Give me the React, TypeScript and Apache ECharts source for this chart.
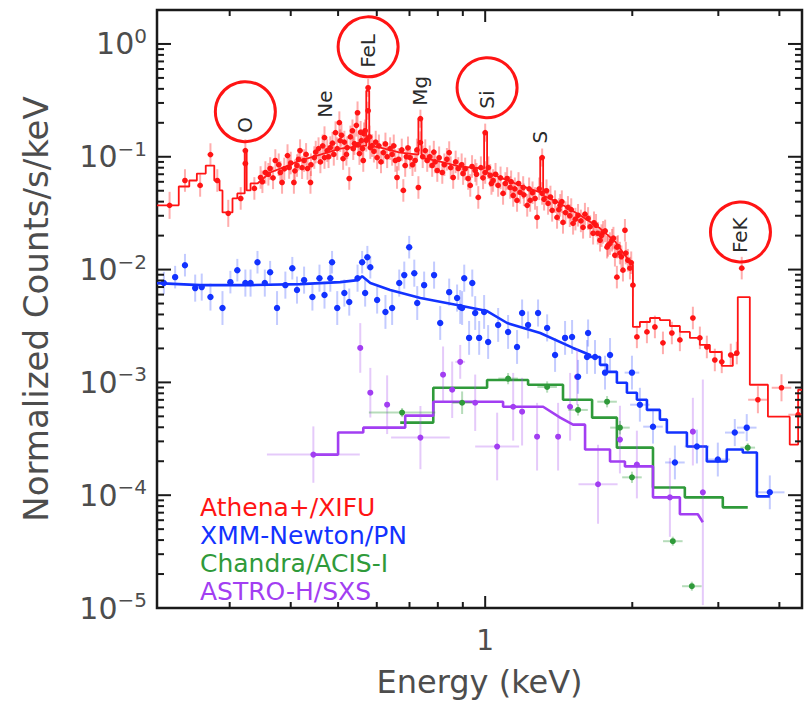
import React, { useEffect, useRef } from "react";
import * as echarts from "echarts";

const FONT = '"DejaVu Sans", sans-serif';
const X_MIN = 0.213;
const X_MAX = 4.45;
const Y_MIN = 1e-5;
const Y_MAX = 2;

const RED = "#ff1414";
const RED_BAR = "rgba(255,40,40,0.38)";
const BLUE = "#1232ff";
const BLUE_BAR = "rgba(40,70,255,0.28)";
const GREEN = "#2f9a3a";
const GREEN_BAR = "rgba(47,154,58,0.35)";
const PURPLE = "#a23ef2";
const PURPLE_BAR = "rgba(170,80,240,0.3)";
const TEXT_GRAY = "#4d4d4d";

const seriesNames = ["Athena+/XIFU", "XMM-Newton/PN", "Chandra/ACIS-I", "ASTRO-H/SXS"];

// [energy keV, counts/s/keV, y-error (dex), x-error (dex, optional)]
const athenaPoints = [
  [0.226, 0.0371, 0.12], [0.243, 0.0616, 0.1], [0.261, 0.0557, 0.1], [0.274, 0.1046, 0.1],
  [0.283, 0.0616, 0.1], [0.298, 0.0315, 0.12], [0.316, 0.0427, 0.1], [0.323, 0.1134, 0.1],
  [0.323, 0.0871, 0.08], [0.337, 0.0524, 0.1], [0.347, 0.0655, 0.1], [0.35, 0.06, 0.1],
  [0.355, 0.0725, 0.1], [0.36, 0.07, 0.1], [0.363, 0.0787, 0.1], [0.368, 0.065, 0.1],
  [0.372, 0.0926, 0.1], [0.378, 0.085, 0.1], [0.381, 0.0725, 0.1], [0.384, 0.0592, 0.1],
  [0.388, 0.078, 0.1], [0.394, 0.1025, 0.1], [0.397, 0.0803, 0.1], [0.4, 0.088, 0.1],
  [0.406, 0.0592, 0.1], [0.408, 0.075, 0.1], [0.412, 0.0836, 0.1], [0.415, 0.095, 0.1],
  [0.418, 0.1134, 0.1], [0.422, 0.08, 0.1], [0.426, 0.0926, 0.1], [0.43, 0.105, 0.1],
  [0.433, 0.0787, 0.1], [0.439, 0.0592, 0.1], [0.44, 0.085, 0.1], [0.447, 0.0984, 0.1],
  [0.45, 0.11, 0.1], [0.456, 0.1181, 0.1], [0.46, 0.09, 0.1], [0.465, 0.125, 0.1],
  [0.469, 0.1478, 0.1], [0.469, 0.0984, 0.1], [0.475, 0.1134, 0.1], [0.478, 0.1, 0.1],
  [0.482, 0.1206, 0.1], [0.487, 0.132, 0.1], [0.49, 0.105, 0.1], [0.494, 0.1636, 0.1],
  [0.498, 0.118, 0.1], [0.503, 0.2005, 0.1], [0.505, 0.139, 0.1], [0.508, 0.155, 0.1],
  [0.512, 0.0964, 0.1], [0.515, 0.135, 0.1], [0.52, 0.105, 0.1], [0.522, 0.1206, 0.1],
  [0.527, 0.0642, 0.1], [0.53, 0.15, 0.1], [0.535, 0.17, 0.1], [0.537, 0.118, 0.1],
  [0.54, 0.1308, 0.1], [0.545, 0.19, 0.1], [0.548, 0.2457, 0.1], [0.55, 0.128, 0.1],
  [0.553, 0.1067, 0.1], [0.556, 0.165, 0.1], [0.558, 0.139, 0.1], [0.561, 0.118, 0.1],
  [0.563, 0.0926, 0.1], [0.565, 0.16, 0.1], [0.568, 0.17, 0.1], [0.571, 0.14, 0.1],
  [0.576, 0.4087, 0.08], [0.576, 0.256, 0.08], [0.58, 0.15, 0.1], [0.582, 0.1206, 0.1],
  [0.587, 0.1256, 0.1], [0.592, 0.112, 0.1], [0.597, 0.135, 0.1], [0.601, 0.0984, 0.1],
  [0.606, 0.125, 0.1], [0.612, 0.09, 0.1], [0.619, 0.1089, 0.1], [0.625, 0.13, 0.1],
  [0.63, 0.1, 0.1], [0.639, 0.1181, 0.1], [0.645, 0.105, 0.1], [0.65, 0.125, 0.1],
  [0.655, 0.0926, 0.1], [0.66, 0.0655, 0.1], [0.665, 0.095, 0.1], [0.675, 0.115, 0.1],
  [0.68, 0.0503, 0.1], [0.686, 0.0836, 0.1], [0.69, 0.1, 0.1], [0.695, 0.12, 0.1],
  [0.702, 0.0984, 0.1], [0.71, 0.085, 0.1], [0.719, 0.0926, 0.1], [0.725, 0.115, 0.1],
  [0.73, 0.0534, 0.1], [0.737, 0.2175, 0.08], [0.737, 0.1335, 0.1], [0.745, 0.1, 0.1],
  [0.754, 0.1134, 0.1], [0.761, 0.0926, 0.1], [0.77, 0.1, 0.1], [0.779, 0.0836, 0.1],
  [0.785, 0.11, 0.1], [0.79, 0.09, 0.1], [0.798, 0.0755, 0.1], [0.805, 0.098, 0.1],
  [0.817, 0.0725, 0.1], [0.825, 0.085, 0.1], [0.835, 0.095, 0.1], [0.844, 0.1089, 0.1],
  [0.85, 0.08, 0.1], [0.86, 0.0655, 0.1], [0.87, 0.09, 0.1], [0.881, 0.0787, 0.1],
  [0.895, 0.085, 0.1], [0.901, 0.071, 0.1], [0.91, 0.078, 0.1], [0.923, 0.0642, 0.1],
  [0.932, 0.0557, 0.1], [0.94, 0.082, 0.1], [0.954, 0.0755, 0.1], [0.96, 0.07, 0.1],
  [0.968, 0.0436, 0.1], [0.98, 0.08, 0.1], [0.99, 0.065, 0.1], [1.0, 0.1636, 0.08],
  [1.0, 0.0725, 0.1], [1.015, 0.08, 0.1], [1.024, 0.0682, 0.1], [1.03, 0.058, 0.1],
  [1.038, 0.0616, 0.1], [1.05, 0.07, 0.1], [1.063, 0.0557, 0.1], [1.075, 0.065, 0.1],
  [1.088, 0.0473, 0.1], [1.1, 0.058, 0.1], [1.109, 0.0642, 0.1], [1.125, 0.0534, 0.1],
  [1.13, 0.06, 0.1], [1.141, 0.0454, 0.1], [1.15, 0.052, 0.1], [1.162, 0.041, 0.1],
  [1.17, 0.058, 0.1], [1.179, 0.0483, 0.1], [1.196, 0.0534, 0.1], [1.2, 0.046, 0.1],
  [1.219, 0.0371, 0.1], [1.23, 0.052, 0.1], [1.236, 0.041, 0.1], [1.25, 0.048, 0.1],
  [1.265, 0.0427, 0.1], [1.277, 0.029, 0.1], [1.29, 0.052, 0.1], [1.308, 0.0984, 0.08],
  [1.308, 0.0473, 0.1], [1.32, 0.042, 0.1], [1.335, 0.05, 0.1], [1.345, 0.0386, 0.1],
  [1.36, 0.044, 0.1], [1.371, 0.0335, 0.1], [1.39, 0.04, 0.1], [1.403, 0.029, 0.1],
  [1.415, 0.034, 0.1], [1.424, 0.0371, 0.1], [1.435, 0.04, 0.1], [1.443, 0.0262, 0.1],
  [1.46, 0.032, 0.1], [1.477, 0.0356, 0.1], [1.49, 0.03, 0.1], [1.5, 0.034, 0.1],
  [1.513, 0.0257, 0.1], [1.53, 0.028, 0.1], [1.549, 0.0303, 0.1], [1.57, 0.027, 0.1],
  [1.586, 0.0237, 0.1], [1.6, 0.031, 0.1], [1.624, 0.0284, 0.1], [1.64, 0.024, 0.1],
  [1.663, 0.021, 0.1], [1.67, 0.026, 0.1], [1.686, 0.0247, 0.1], [1.7, 0.021, 0.1],
  [1.718, 0.0182, 0.1], [1.73, 0.02, 0.1], [1.743, 0.0214, 0.1], [1.76, 0.022, 0.1],
  [1.776, 0.0158, 0.1], [1.784, 0.0164, 0.1], [1.8, 0.017, 0.1], [1.818, 0.0182, 0.1],
  [1.83, 0.019, 0.1], [1.843, 0.0134, 0.1], [1.86, 0.0158, 0.1], [1.86, 0.00857, 0.1],
  [1.87, 0.016, 0.1], [1.887, 0.014, 0.1], [1.9, 0.013, 0.1], [1.914, 0.00988, 0.1],
  [1.932, 0.0223, 0.1], [1.94, 0.014, 0.1], [1.959, 0.0121, 0.1], [1.978, 0.0103, 0.1],
  [1.99, 0.0115, 0.1], [2.006, 0.00728, 0.1], [2.044, 0.00253, 0.1], [2.143, 0.0028, 0.1],
  [2.225, 0.0031, 0.1], [2.311, 0.00224, 0.1], [2.41, 0.00274, 0.1], [2.503, 0.00238, 0.1],
  [2.661, 0.00372, 0.1], [2.75, 0.00248, 0.1], [2.842, 0.00206, 0.1], [2.951, 0.00158, 0.1],
  [3.049, 0.00152, 0.1], [3.181, 0.00175, 0.1], [3.273, 0.00182, 0.1], [3.35, 0.0103, 0.1],
  [3.615, 0.000702, 0.12, 0.02], [4.04, 0.000896, 0.12, 0.02], [4.37, 0.000517, 0.12, 0.02],
];

const athenaModel = [
  [0.213, 0.0371], [0.236, 0.0371], [0.236, 0.0545], [0.248, 0.0545], [0.248, 0.0616], [0.257, 0.0616],
  [0.257, 0.071], [0.268, 0.071], [0.268, 0.0836], [0.279, 0.0836], [0.279, 0.0616], [0.286, 0.0616],
  [0.286, 0.0503], [0.29, 0.0503], [0.29, 0.0321], [0.304, 0.0321], [0.304, 0.0427], [0.311, 0.0427],
  [0.311, 0.0473], [0.322, 0.0473], [0.322, 0.1134], [0.325, 0.1134], [0.325, 0.0503], [0.331, 0.0503],
  [0.331, 0.058], [0.342, 0.058], [0.363, 0.0725], [0.39, 0.0819], [0.418, 0.0926], [0.46, 0.1046],
  [0.505, 0.1181], [0.571, 0.1256], [0.571, 0.384], [0.579, 0.384], [0.579, 0.1256], [0.61, 0.1206],
  [0.67, 0.1089], [0.73, 0.1046], [0.73, 0.2175], [0.741, 0.2175], [0.741, 0.0984], [0.809, 0.0907],
  [0.889, 0.0819], [0.995, 0.0787], [0.995, 0.1636], [1.009, 0.1636], [1.009, 0.0725], [1.073, 0.0655],
  [1.179, 0.0557], [1.296, 0.0483], [1.296, 0.0984], [1.314, 0.0984], [1.314, 0.0454], [1.424, 0.0386],
  [1.564, 0.0303], [1.718, 0.0232], [1.843, 0.0178], [1.932, 0.0134], [2.006, 0.01094], [2.006, 0.0031],
  [2.073, 0.0031], [2.073, 0.00343], [2.174, 0.00343], [2.174, 0.00372], [2.278, 0.00372], [2.278, 0.00357],
  [2.388, 0.00357], [2.388, 0.00316], [2.503, 0.00316], [2.503, 0.0028], [2.624, 0.0028], [2.624, 0.00248],
  [2.75, 0.00248], [2.75, 0.00215], [2.883, 0.00215], [2.883, 0.00186], [3.049, 0.00186], [3.049, 0.0014],
  [3.212, 0.0014], [3.212, 0.00175], [3.288, 0.00175], [3.288, 0.00571], [3.48, 0.00571], [3.48, 0.000953],
  [3.79, 0.000953], [3.79, 0.000497], [4.2, 0.000497], [4.2, 0.000281], [4.37, 0.000281], [4.37, 0.00086],
  [4.45, 0.00086],
];

const xmmPoints = [
  [0.22, 0.00759, 0.1], [0.232, 0.00857, 0.1], [0.243, 0.01094, 0.1], [0.255, 0.00685, 0.12],
  [0.263, 0.00699, 0.12], [0.274, 0.00571, 0.12], [0.29, 0.00456, 0.15], [0.301, 0.00774, 0.1],
  [0.311, 0.00988, 0.1], [0.323, 0.00759, 0.12], [0.331, 0.00759, 0.12], [0.342, 0.01162, 0.1],
  [0.354, 0.00759, 0.12], [0.363, 0.00948, 0.1], [0.375, 0.00456, 0.15], [0.39, 0.00728, 0.12],
  [0.403, 0.01028, 0.1], [0.412, 0.00658, 0.12], [0.426, 0.00806, 0.12], [0.443, 0.00571, 0.12],
  [0.458, 0.00839, 0.12], [0.469, 0.00594, 0.12], [0.482, 0.00839, 0.12], [0.486, 0.01162, 0.1],
  [0.498, 0.00456, 0.15], [0.515, 0.00619, 0.12], [0.527, 0.00515, 0.12], [0.548, 0.00839, 0.12],
  [0.56, 0.01162, 0.1], [0.574, 0.01288, 0.1], [0.582, 0.0105, 0.1], [0.568, 0.00619, 0.12],
  [0.601, 0.00537, 0.12], [0.625, 0.00421, 0.15], [0.645, 0.00456, 0.15], [0.667, 0.00759, 0.12],
  [0.683, 0.00893, 0.12], [0.699, 0.0158, 0.1], [0.716, 0.00929, 0.12], [0.726, 0.00505, 0.15],
  [0.75, 0.00728, 0.12], [0.786, 0.00893, 0.12], [0.809, 0.00336, 0.15], [0.844, 0.00631, 0.12],
  [0.876, 0.00559, 0.12], [0.889, 0.00466, 0.15], [0.897, 0.00456, 0.15], [0.906, 0.00839, 0.12],
  [0.941, 0.00759, 0.12], [0.927, 0.00248, 0.15], [0.954, 0.00412, 0.15], [0.972, 0.00248, 0.15],
  [0.995, 0.00421, 0.15], [1.014, 0.00228, 0.15], [1.063, 0.00323, 0.15], [1.114, 0.0028, 0.15],
  [1.162, 0.00206, 0.15], [1.19, 0.00412, 0.12], [1.224, 0.00323, 0.12], [1.283, 0.00412, 0.12],
  [1.339, 0.00304, 0.12], [1.39, 0.00175, 0.15], [1.457, 0.00248, 0.15], [1.506, 0.00253, 0.15],
  [1.549, 0.00112, 0.15], [1.616, 0.00168, 0.15], [1.624, 0.00274, 0.12], [1.678, 0.00168, 0.15],
  [1.759, 0.00122, 0.15], [1.801, 0.00175, 0.15], [1.997, 0.00122, 0.15, 0.015], [2.073, 0.000634, 0.15, 0.02],
  [2.205, 0.000405, 0.15, 0.02], [2.445, 0.000195, 0.15, 0.02], [2.712, 0.00027, 0.15, 0.025],
  [2.993, 0.000207, 0.15, 0.025], [3.242, 0.000359, 0.12, 0.02], [3.43, 0.000397, 0.12, 0.02],
  [3.824, 0.000106, 0.15, 0.03],
];

const xmmModel = [
  [0.213, 0.00759], [0.261, 0.00728], [0.331, 0.00728], [0.418, 0.00743], [0.505, 0.00774], [0.548, 0.00806],
  [0.56, 0.00874], [0.582, 0.00759], [0.639, 0.00658], [0.737, 0.00559], [0.876, 0.00485], [1.009, 0.00429],
  [1.109, 0.00336], [1.296, 0.00274], [1.513, 0.00202], [1.64, 0.00175], [1.64, 0.00168], [1.718, 0.00168],
  [1.718, 0.00143], [1.776, 0.00143], [1.776, 0.00124], [1.86, 0.00124], [1.86, 0.000992], [1.95, 0.000992],
  [1.95, 0.00081], [2.044, 0.00081], [2.044, 0.000702], [2.143, 0.000702], [2.143, 0.00057], [2.278, 0.00057],
  [2.278, 0.000468], [2.354, 0.000468], [2.354, 0.000359], [2.587, 0.000359], [2.587, 0.00027], [2.842, 0.00027],
  [2.842, 0.000199], [3.122, 0.000199], [3.122, 0.000254], [3.366, 0.000254], [3.366, 0.000239], [3.598, 0.000239],
  [3.598, 0.0000976], [3.824, 0.0000976],
];

const chandraPoints = [
  [0.676, 0.00054, 0.04, 0.068], [0.897, 0.00066, 0.1, 0.02], [1.114, 0.00108, 0.05, 0.02],
  [1.339, 0.00091, 0.05, 0.02], [1.549, 0.00057, 0.05, 0.02], [1.776, 0.000674, 0.05, 0.02],
  [1.887, 0.000397, 0.06, 0.02], [1.997, 0.000144, 0.05, 0.02], [2.421, 0.0000391, 0.04, 0.02],
  [2.648, 0.0000156, 0.04, 0.02], [3.446, 0.000264, 0.04, 0.015],
];

const chandraModel = [
  [0.67, 0.00044], [0.783, 0.00044], [0.783, 0.000896], [1.009, 0.000896], [1.009, 0.00105], [1.224, 0.00105],
  [1.224, 0.000953], [1.443, 0.000953], [1.443, 0.000702], [1.655, 0.000702], [1.655, 0.000487], [1.86, 0.000487],
  [1.86, 0.000264], [2.205, 0.000264], [2.205, 0.000117], [2.562, 0.000117], [2.562, 0.0000957], [3.064, 0.0000957],
  [3.064, 0.000078], [3.446, 0.000078],
];

const astroPoints = [
  [0.445, 0.000229, 0.25, 0.095], [0.555, 0.00202, 0.22], [0.582, 0.00081, 0.22], [0.63, 0.000634, 0.26],
  [0.737, 0.000324, 0.28, 0.06], [0.82, 0.00117, 0.25], [0.856, 0.00086, 0.25], [0.889, 0.00152, 0.15, 0.01],
  [0.954, 0.00066, 0.25], [1.058, 0.00027, 0.3, 0.045], [1.141, 0.000608, 0.3], [1.19, 0.00055, 0.3],
  [1.277, 0.00033, 0.3], [1.41, 0.00033, 0.3], [1.492, 0.000608, 0.3], [1.542, 0.00112, 0.25],
  [1.702, 0.000125, 0.35, 0.04], [1.887, 0.000311, 0.3], [2.044, 0.000187, 0.3], [2.388, 0.0000957, 0.35],
  [2.661, 0.000366, 0.3], [2.789, 0.000106, 1.0],
];

const astroModel = [
  [0.445, 0.000229], [0.5, 0.000229], [0.5, 0.000359], [0.563, 0.000359], [0.563, 0.000397], [0.686, 0.000397],
  [0.686, 0.000507], [0.783, 0.000507], [0.783, 0.000674], [1.088, 0.000674], [1.088, 0.000608], [1.314, 0.000608],
  [1.424, 0.000487], [1.513, 0.000422], [1.601, 0.000422], [1.601, 0.000254], [1.801, 0.000254], [1.801, 0.000199],
  [1.932, 0.000199], [1.932, 0.00018], [2.205, 0.00018], [2.205, 0.0000957], [2.503, 0.0000957], [2.503, 0.0000677],
  [2.724, 0.0000677], [2.789, 0.0000576],
];

// Line annotations: text starts at (energy, flux) and reads upward
const lineNames = ["O", "Ne", "FeL", "Mg", "Si", "S", "FeK"];
const lineEnergies = [0.323, 0.469, 0.576, 0.737, 1.009, 1.296, 3.33];
const lineLabelFlux = [0.1636, 0.222, 0.614, 0.2833, 0.2666, 0.1308, 0.014];
const lineCircled = [true, false, true, false, true, false, true];

const xMajorTicks = [1];
const xMinorTicks = [0.3, 0.4, 0.5, 0.6, 0.7, 0.8, 0.9, 2, 3, 4];
const yMajorTicks = [1e-5, 1e-4, 1e-3, 1e-2, 1e-1, 1];
const yMinorMultipliers = [2, 3, 4, 5, 6, 7, 8, 9];

function withDefaults(points: number[][]) {
  return points.map((p) => [p[0], p[1], p[2], p[3] !== undefined ? p[3] : 0.006]);
}

function errSeries(name: string, points: number[][], color: string, barColor: string, r: number, z: number) {
  return {
    type: "custom",
    name,
    coordinateSystem: "cartesian2d",
    clip: true,
    z,
    dimensions: ["x", "y", "ey", "ex"],
    encode: { x: 0, y: 1 },
    data: withDefaults(points),
    renderItem: (params: any, api: any) => {
      const E = api.value(0);
      const v = api.value(1);
      const ey = Math.pow(10, api.value(2));
      const ex = Math.pow(10, api.value(3));
      const c = api.coord([E, v]);
      const top = api.coord([E, v * ey]);
      const bot = api.coord([E, v / ey]);
      const lft = api.coord([E / ex, v]);
      const rgt = api.coord([E * ex, v]);
      return {
        type: "group",
        children: [
          { type: "line", shape: { x1: c[0], y1: top[1], x2: c[0], y2: bot[1] }, style: { stroke: barColor, lineWidth: 2 } },
          { type: "line", shape: { x1: lft[0], y1: c[1], x2: rgt[0], y2: c[1] }, style: { stroke: barColor, lineWidth: 2 } },
          { type: "circle", shape: { cx: c[0], cy: c[1], r }, style: { fill: color } },
        ],
      };
    },
  };
}

function modelSeries(id: string, data: number[][], color: string, width: number) {
  return {
    type: "line",
    id,
    data,
    showSymbol: false,
    symbol: "none",
    z: 3,
    clip: true,
    lineStyle: { color, width },
    emphasis: { disabled: true },
  };
}

export default function App() {
  const ref = useRef<HTMLDivElement>(null);

  useEffect(() => {
    if (!ref.current) return;
    const chart = echarts.init(ref.current, undefined, { renderer: "svg" });

    const yMinorTicks: number[] = [];
    yMajorTicks.forEach((d) => yMinorMultipliers.forEach((m) => { if (m * d < Y_MAX) yMinorTicks.push(m * d); }));

    const xTickData = [
      ...xMajorTicks.map((v) => [v, Y_MIN, 1]),
      ...xMinorTicks.map((v) => [v, Y_MIN, 0]),
    ];
    const yTickData = [
      ...yMajorTicks.map((v) => [X_MIN, v, 1]),
      ...yMinorTicks.map((v) => [X_MIN, v, 0]),
    ];

    const tickStyle = { stroke: "#1a1a1a", lineWidth: 2 };

    const labelData = lineEnergies.map((e, i) => [e, lineLabelFlux[i]]);

    const option: any = {
      animation: false,
      backgroundColor: "#ffffff",
      textStyle: { fontFamily: FONT },
      grid: {
        left: 157,
        right: 3,
        top: 10,
        bottom: 98,
        show: true,
        borderColor: "#1a1a1a",
        borderWidth: 2.5,
        backgroundColor: "transparent",
      },
      legend: {
        orient: "vertical",
        left: 190,
        top: 489,
        icon: "none",
        itemWidth: 0,
        itemHeight: 0,
        itemGap: 1,
        selectedMode: false,
        textStyle: { fontSize: 25, fontFamily: FONT, lineHeight: 27 },
        data: [
          { name: seriesNames[0], textStyle: { color: RED } },
          { name: seriesNames[1], textStyle: { color: BLUE } },
          { name: seriesNames[2], textStyle: { color: GREEN } },
          { name: seriesNames[3], textStyle: { color: PURPLE } },
        ],
      },
      xAxis: {
        type: "log",
        logBase: 10,
        min: X_MIN,
        max: X_MAX,
        name: "Energy (keV)",
        nameLocation: "middle",
        nameGap: 58,
        nameTextStyle: { fontSize: 32, color: TEXT_GRAY, fontFamily: FONT },
        axisLine: { show: false },
        axisTick: { show: false },
        splitLine: { show: false },
        axisLabel: {
          fontSize: 28,
          color: TEXT_GRAY,
          fontFamily: FONT,
          margin: 18,
          formatter: (v: number) => (Math.abs(v - 1) < 1e-6 ? "1" : ""),
        },
      },
      yAxis: {
        type: "log",
        logBase: 10,
        min: Y_MIN,
        max: Y_MAX,
        name: "Normalized Counts/s/keV",
        nameLocation: "middle",
        nameRotate: 90,
        nameGap: 104,
        nameTextStyle: { fontSize: 34, color: TEXT_GRAY, fontFamily: FONT },
        axisLine: { show: false },
        axisTick: { show: false },
        splitLine: { show: false },
        axisLabel: {
          margin: 10,
          color: TEXT_GRAY,
          fontFamily: FONT,
          formatter: (v: number) => {
            const e = Math.log10(v);
            if (Math.abs(e - Math.round(e)) > 1e-6) return "";
            const n = Math.round(e);
            return `{b|10}{s|${n < 0 ? "\u2212" + -n : n}}`;
          },
          rich: {
            b: { fontSize: 30, lineHeight: 36, color: TEXT_GRAY, fontFamily: FONT },
            s: { fontSize: 20, lineHeight: 16, verticalAlign: "top", color: TEXT_GRAY, fontFamily: FONT },
          },
        },
      },
      series: [
        modelSeries("athenaModel", athenaModel, RED, 1.8),
        modelSeries("xmmModel", xmmModel, BLUE, 2.6),
        modelSeries("chandraModel", chandraModel, GREEN, 2.6),
        modelSeries("astroModel", astroModel, PURPLE, 2.6),
        errSeries(seriesNames[3], astroPoints, PURPLE, PURPLE_BAR, 3, 4),
        errSeries(seriesNames[2], chandraPoints, GREEN, GREEN_BAR, 3, 4),
        errSeries(seriesNames[1], xmmPoints, BLUE, BLUE_BAR, 3.2, 5),
        errSeries(seriesNames[0], athenaPoints, RED, RED_BAR, 2.8, 6),
        {
          type: "custom",
          id: "xTicks",
          coordinateSystem: "cartesian2d",
          clip: false,
          z: 10,
          silent: true,
          data: xTickData,
          encode: { x: 0, y: 1 },
          renderItem: (params: any, api: any) => {
            const cs = params.coordSys;
            const p = api.coord([api.value(0), api.value(1)]);
            const len = api.value(2) ? 12 : 6;
            const yb = cs.y + cs.height;
            return {
              type: "group",
              children: [
                { type: "line", shape: { x1: p[0], y1: yb, x2: p[0], y2: yb - len }, style: tickStyle },
                { type: "line", shape: { x1: p[0], y1: cs.y, x2: p[0], y2: cs.y + len }, style: tickStyle },
              ],
            };
          },
        },
        {
          type: "custom",
          id: "yTicks",
          coordinateSystem: "cartesian2d",
          clip: false,
          z: 10,
          silent: true,
          data: yTickData,
          encode: { x: 0, y: 1 },
          renderItem: (params: any, api: any) => {
            const cs = params.coordSys;
            const p = api.coord([api.value(0), api.value(1)]);
            const len = api.value(2) ? 14 : 7;
            const xr = cs.x + cs.width;
            return {
              type: "group",
              children: [
                { type: "line", shape: { x1: cs.x, y1: p[1], x2: cs.x + len, y2: p[1] }, style: tickStyle },
                { type: "line", shape: { x1: xr, y1: p[1], x2: xr - len, y2: p[1] }, style: tickStyle },
              ],
            };
          },
        },
        {
          type: "custom",
          id: "lineLabels",
          coordinateSystem: "cartesian2d",
          clip: false,
          z: 8,
          silent: true,
          data: labelData,
          encode: { x: 0, y: 1 },
          renderItem: (params: any, api: any) => {
            const i = params.dataIndex;
            const p = api.coord([api.value(0), api.value(1)]);
            const children: any[] = [
              {
                type: "text",
                x: p[0],
                y: p[1],
                rotation: Math.PI / 2,
                style: {
                  text: lineNames[i],
                  fill: "#2a2a2a",
                  fontSize: 20,
                  fontFamily: FONT,
                  align: "left",
                  verticalAlign: "middle",
                },
              },
            ];
            if (lineCircled[i]) {
              children.push({
                type: "circle",
                shape: { cx: p[0], cy: p[1] - 21, r: 30 },
                style: { fill: "none", stroke: RED, lineWidth: 3 },
              });
            }
            return { type: "group", children };
          },
        },
      ],
    };

    chart.setOption(option);
    return () => chart.dispose();
  }, []);

  return (
    <div
      ref={ref}
      style={{ position: "absolute", left: 0, top: 0, width: 805, height: 706, background: "#fff" }}
    />
  );
}
